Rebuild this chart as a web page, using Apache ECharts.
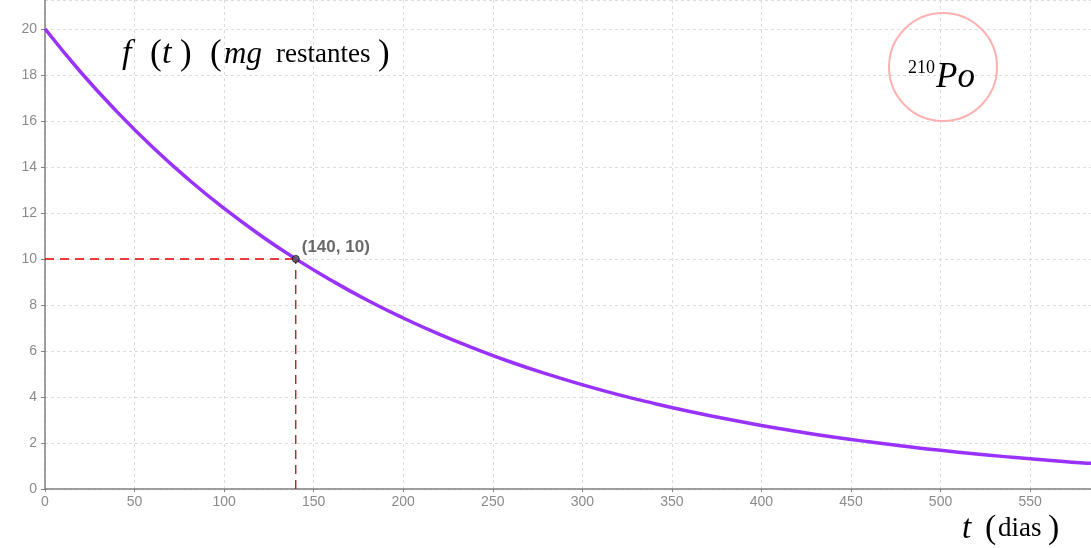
<!DOCTYPE html>
<html>
<head>
<meta charset="utf-8">
<script src="https://cdn.jsdelivr.net/npm/echarts@6/dist/echarts.min.js"></script>
<style>html,body{margin:0;padding:0;background:#fff;}#c{width:1091px;height:548px;}</style>
</head>
<body>
<div id="c"></div>
<script>
// Values
var tDays = [0,20,40,60,80,100,120,140,160,180,200,220,240,260,280,300,320,340,360,380,400,420,440,460,480,500,520,540,560,580,584];
var mgLeft = [20,18.11,16.41,14.86,13.46,12.19,11.04,10,9.06,8.20,7.43,6.73,6.10,5.52,5,4.53,4.10,3.72,3.37,3.05,2.76,2.5,2.26,2.05,1.86,1.68,1.52,1.38,1.25,1.13,1.12];
var halfLifePoint = [140, 10];
var xTicks = [0,50,100,150,200,250,300,350,400,450,500,550];
var yTicks = [0,2,4,6,8,10,12,14,16,18,20];

var chart = echarts.init(document.getElementById('c'), null, {renderer:'canvas'});
var curve = tDays.map(function(t,i){return [t, mgLeft[i]];});
var serif = '"Liberation Serif", "Times New Roman", serif';
var sans = '"Liberation Sans", Arial, sans-serif';

var option = {
  animation: false,
  backgroundColor: '#fff',
  grid: {left: 45, right: 0, top: 0, bottom: 59, containLabel: false},
  xAxis: {
    type: 'value', min: 0, max: 584, interval: 50,
    axisLine: {show: true, onZero: false, lineStyle: {color: '#808080', width: 1.5}},
    axisTick: {show: true, length: 3, lineStyle: {color: '#808080'}},
    axisLabel: {color: '#8a8a8a', fontSize: 14, fontFamily: sans, margin: 6, showMaxLabel: false,
      formatter: function(v){ return xTicks.indexOf(v) >= 0 ? String(v) : ''; }},
    splitLine: {show: true, lineStyle: {color: '#dcdcdc', type: [3,3], width: 1}}
  },
  yAxis: {
    type: 'value', min: 0, max: 21.25, interval: 2,
    axisLine: {show: true, onZero: false, lineStyle: {color: '#808080', width: 1.5}},
    axisTick: {show: true, length: 4, lineStyle: {color: '#808080'}},
    axisLabel: {color: '#8a8a8a', fontSize: 14, fontFamily: sans, margin: 8, showMaxLabel: false,
      formatter: function(v){ return yTicks.indexOf(v) >= 0 ? String(v) : ''; }},
    splitLine: {show: true, lineStyle: {color: '#dcdcdc', type: [3,3], width: 1}}
  },
  series: [
    {
      type: 'line', data: [[0, halfLifePoint[1]], halfLifePoint], symbol: 'none',
      lineStyle: {color: '#e80000', width: 1.5, type: [9,6]}, z: 3, silent: true
    },
    {
      type: 'line', data: [[halfLifePoint[0], 0], halfLifePoint], symbol: 'none',
      lineStyle: {color: '#a01818', width: 1.3, type: [9,6]}, z: 3, silent: true
    },
    {
      type: 'line', data: curve, smooth: true, symbol: 'none',
      lineStyle: {color: '#9a32ff', width: 3.5}, z: 4
    },
    {
      type: 'scatter', data: [halfLifePoint], symbolSize: 7,
      itemStyle: {color: '#555', borderColor: '#111', borderWidth: 1}, z: 6,
      label: {show: true, position: 'right', distance: 2, offset: [0, -12],
        formatter: function(p){ return '(' + p.value[0] + ', ' + p.value[1] + ')'; },
        color: '#444', fontSize: 17, fontWeight: 'bold', fontFamily: sans}
    }
  ],
  graphic: [
    {
      type: 'text', left: 122, top: 37, z: 10,
      style: {
        text: '{fi|f}{pa|(}{ti|t}{pb|)}{pc|(}{mi|mg}{re|restantes}{pa|)}',
        rich: {
          fi: {fontFamily: serif, fontStyle: 'italic', fontSize: 34, fill: '#000', width: 28},
          ti: {fontFamily: serif, fontStyle: 'italic', fontSize: 34, fill: '#000', width: 18},
          mi: {fontFamily: serif, fontStyle: 'italic', fontSize: 31, fill: '#000', width: 52},
          pa: {fontFamily: serif, fontSize: 35, fill: '#000', width: 12},
          pb: {fontFamily: serif, fontSize: 35, fill: '#000', width: 30},
          pc: {fontFamily: serif, fontSize: 35, fill: '#000', width: 14},
          re: {fontFamily: serif, fontSize: 27, fill: '#000', width: 102}
        }
      }
    },
    {
      type: 'text', left: 962, top: 512, z: 10,
      style: {
        text: '{ti|t}{pa|(}{re|dias}{pb|)}',
        rich: {
          ti: {fontFamily: serif, fontStyle: 'italic', fontSize: 33, fill: '#000', width: 23},
          pa: {fontFamily: serif, fontSize: 34, fill: '#000', width: 13},
          pb: {fontFamily: serif, fontSize: 34, fill: '#000'},
          re: {fontFamily: serif, fontSize: 27, fill: '#000', width: 50}
        }
      }
    },
    {
      type: 'circle', shape: {cx: 943, cy: 67, r: 54}, z: 9,
      style: {fill: 'none', stroke: '#ffb0b0', lineWidth: 2}
    },
    {
      type: 'text', left: 908, top: 59, z: 10,
      style: {text: '210', fontFamily: serif, fontSize: 18, fill: '#000'}
    },
    {
      type: 'text', left: 936, top: 60, z: 10,
      style: {text: 'Po', fontFamily: serif, fontStyle: 'italic', fontSize: 35, fill: '#000'}
    }
  ]
};
chart.setOption(option);
</script>
</body>
</html>
